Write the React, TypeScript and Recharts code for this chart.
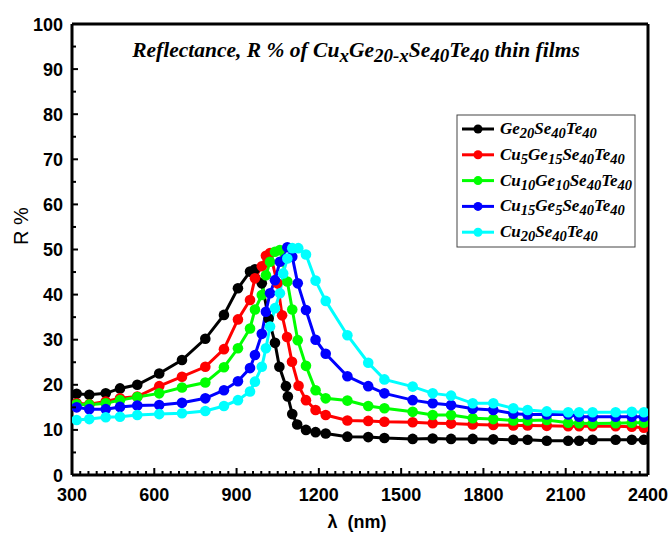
import React from 'react';
import { LineChart, Line, XAxis, YAxis, ReferenceLine } from 'recharts';

// Reflectance R (%) versus wavelength (nm), one [nm, R] pair per measured point
const ge20Se40Te40: [number, number][] = [
  [317, 18.0], [363, 17.8], [423, 18.1], [475, 19.2], [538, 20.0], [618, 22.5], [701, 25.5],
  [786, 30.2], [854, 35.5], [905, 41.4], [949, 45.1], [967, 45.6], [992, 42.5], [1017, 34.7],
  [1040, 29.3], [1056, 24.0], [1080, 19.7], [1087, 17.4], [1103, 13.5], [1121, 11.2],
  [1153, 10.0], [1188, 9.5], [1225, 9.2], [1304, 8.5], [1380, 8.4], [1439, 8.2], [1542, 8.0],
  [1615, 8.1], [1682, 8.0], [1761, 8.0], [1836, 7.9], [1909, 7.8], [1961, 7.8], [2031, 7.6],
  [2109, 7.6], [2149, 7.6], [2198, 7.8], [2282, 7.8], [2341, 7.8], [2385, 7.8],
];

const cu5Ge15Se40Te40: [number, number][] = [
  [317, 15.9], [363, 15.7], [423, 16.3], [475, 17.0], [538, 17.4], [618, 19.7], [701, 21.8],
  [786, 24.0], [854, 27.9], [905, 34.5], [949, 38.8], [967, 43.6], [992, 46.3], [1007, 48.6],
  [1022, 49.2], [1049, 42.5], [1066, 35.4], [1084, 30.6], [1102, 25.1], [1126, 19.8],
  [1153, 16.6], [1188, 14.4], [1225, 13.3], [1304, 12.1], [1380, 12.0], [1439, 11.8],
  [1542, 11.7], [1615, 11.5], [1682, 11.4], [1761, 11.2], [1836, 11.1], [1909, 11.0],
  [1961, 11.0], [2031, 10.9], [2109, 10.8], [2149, 10.8], [2198, 10.8], [2282, 10.8],
  [2341, 10.7], [2385, 10.5],
];

const cu10Ge10Se40Te40: [number, number][] = [
  [317, 15.7], [363, 15.6], [423, 15.9], [475, 16.6], [538, 17.3], [618, 18.1], [701, 19.4],
  [786, 20.5], [854, 23.9], [905, 28.1], [949, 32.5], [967, 36.7], [992, 39.9], [1007, 44.3],
  [1022, 47.3], [1040, 49.5], [1058, 49.9], [1085, 42.9], [1103, 36.7], [1123, 29.9],
  [1153, 24.2], [1188, 18.8], [1225, 17.0], [1304, 16.5], [1380, 15.3], [1439, 14.8],
  [1542, 14.0], [1615, 13.3], [1682, 13.3], [1761, 12.6], [1836, 12.4], [1909, 12.1],
  [1961, 12.1], [2031, 12.2], [2109, 11.6], [2149, 11.5], [2198, 11.4], [2282, 11.5],
  [2341, 11.6], [2385, 11.6],
];

const cu15Ge5Se40Te40: [number, number][] = [
  [317, 15.0], [363, 14.6], [423, 14.6], [475, 15.1], [538, 15.4], [618, 15.5], [701, 16.0],
  [786, 17.0], [854, 18.8], [905, 20.8], [949, 23.7], [967, 26.6], [992, 31.3], [1007, 36.2],
  [1022, 40.3], [1040, 43.2], [1058, 47.3], [1085, 50.5], [1103, 48.4], [1123, 42.5],
  [1153, 36.6], [1188, 30.0], [1225, 26.9], [1304, 21.9], [1380, 19.7], [1439, 18.1],
  [1542, 16.6], [1615, 15.9], [1682, 15.5], [1761, 14.7], [1836, 14.4], [1909, 13.6],
  [1961, 13.4], [2031, 13.4], [2109, 13.4], [2149, 12.9], [2198, 12.9], [2282, 12.9],
  [2341, 12.9], [2385, 12.9],
];

const cu20Se40Te40: [number, number][] = [
  [317, 12.2], [363, 12.4], [423, 12.8], [475, 12.9], [538, 13.3], [618, 13.5], [701, 13.7],
  [786, 14.2], [854, 15.3], [905, 16.6], [949, 18.5], [967, 20.7], [992, 24.0], [1007, 28.1],
  [1022, 32.9], [1040, 37.0], [1058, 40.3], [1070, 44.7], [1085, 48.0], [1103, 50.3],
  [1125, 50.3], [1153, 48.9], [1188, 43.1], [1225, 38.6], [1304, 31.0], [1380, 24.9],
  [1439, 21.2], [1542, 19.6], [1615, 18.1], [1682, 17.6], [1761, 15.9], [1836, 15.9],
  [1909, 14.8], [1961, 14.4], [2031, 14.1], [2109, 13.9], [2149, 13.9], [2198, 13.9],
  [2282, 13.9], [2341, 14.0], [2385, 13.9],
];

// Axis ticks
const xMajorTicks = [300, 600, 900, 1200, 1500, 1800, 2100, 2400];
const yMajorTicks = [0, 10, 20, 30, 40, 50, 60, 70, 80, 90, 100];
const xMinorStep = 30;
const yMinorStep = 5;

// Legend labels as [text, subscript] runs
type Run = [string, string];
const legendNames: Run[][] = [
  [['Ge', '20'], ['Se', '40'], ['Te', '40']],
  [['Cu', '5'], ['Ge', '15'], ['Se', '40'], ['Te', '40']],
  [['Cu', '10'], ['Ge', '10'], ['Se', '40'], ['Te', '40']],
  [['Cu', '15'], ['Ge', '5'], ['Se', '40'], ['Te', '40']],
  [['Cu', '20'], ['Se', '40'], ['Te', '40']],
];
const seriesColors = ['#000000', '#ff0000', '#00ff00', '#0000ff', '#00ffff'];
const seriesData = [ge20Se40Te40, cu5Ge15Se40Te40, cu10Ge10Se40Te40, cu15Ge5Se40Te40, cu20Se40Te40];

const titleRuns: Run[] = [
  ['Reflectance, R % of Cu', 'x'],
  ['Ge', '20-x'],
  ['Se', '40'],
  ['Te', '40'],
  [' thin films', ''],
];

const toPoints = (rows: [number, number][]) => rows.map(([nm, r]) => ({ nm, r }));

const xTicks: number[] = [];
for (let v = xMajorTicks[0]; v <= xMajorTicks[xMajorTicks.length - 1]; v += xMinorStep) xTicks.push(v);
const yTicks: number[] = [];
for (let v = yMajorTicks[0]; v <= yMajorTicks[yMajorTicks.length - 1]; v += yMinorStep) yTicks.push(v);

const labelFont = "'Liberation Sans', Arial, sans-serif";
const serifFont = "'Liberation Serif', 'Times New Roman', serif";

const XTick = (props: any) => {
  const { x, y, payload } = props;
  const major = xMajorTicks.includes(payload.value);
  return (
    <g>
      <line x1={x} x2={x} y1={y} y2={y - (major ? 7 : 4)} stroke="#000" strokeWidth={2} />
      {major && (
        <text x={x} y={y + 26} textAnchor="middle" fontFamily={labelFont} fontWeight="bold" fontSize={18} fill="#000">
          {payload.value}
        </text>
      )}
    </g>
  );
};

const YTick = (props: any) => {
  const { x, y, payload } = props;
  const major = yMajorTicks.includes(payload.value);
  return (
    <g>
      <line x1={x} x2={x + (major ? 6 : 4)} y1={y} y2={y} stroke="#000" strokeWidth={2} />
      {major && (
        <text x={x - 9} y={y + 6.5} textAnchor="end" fontFamily={labelFont} fontWeight="bold" fontSize={18} fill="#000">
          {payload.value}
        </text>
      )}
    </g>
  );
};

const SubText = ({ runs, size, subSize, shift }: { runs: Run[]; size: number; subSize: number; shift: number }) => (
  <>
    {runs.map(([main, sub], i) => (
      <React.Fragment key={i}>
        <tspan fontSize={size} dy={i === 0 ? 0 : -shift}>{main}</tspan>
        {sub ? <tspan fontSize={subSize} dy={shift}>{sub}</tspan> : <tspan dy={shift}></tspan>}
      </React.Fragment>
    ))}
  </>
);

export default function App() {
  const legendX = 457;
  const legendY = 115;
  const rowGap = 25.8;
  return (
    <div style={{ position: 'absolute', left: 0, top: 0, width: 672, height: 534, background: '#fff' }}>
      <LineChart width={672} height={534} margin={{ top: 24, right: 24, bottom: 0, left: 0 }}>
        <XAxis
          type="number"
          dataKey="nm"
          domain={[300, 2400]}
          ticks={xTicks}
          interval={0}
          allowDataOverflow
          height={59}
          tickSize={0}
          tickMargin={0}
          tickLine={false}
          tick={<XTick />}
          axisLine={{ stroke: '#000', strokeWidth: 3 }}
        />
        <YAxis
          type="number"
          dataKey="r"
          domain={[0, 100]}
          ticks={yTicks}
          interval={0}
          allowDataOverflow
          width={72}
          tickSize={0}
          tickMargin={0}
          tickLine={false}
          tick={<YTick />}
          axisLine={{ stroke: '#000', strokeWidth: 3 }}
        />
        {seriesData.map((rows, i) => (
          <Line
            key={i}
            data={toPoints(rows)}
            dataKey="r"
            type="linear"
            stroke={seriesColors[i]}
            strokeWidth={3}
            dot={{ r: 5.3, fill: seriesColors[i], stroke: seriesColors[i], strokeWidth: 0 }}
            isAnimationActive={false}
          />
        ))}
        <ReferenceLine y={100} stroke="#000" strokeWidth={3} />
        <ReferenceLine x={2400} stroke="#000" strokeWidth={3} />
      </LineChart>
      <svg width={672} height={534} style={{ position: 'absolute', left: 0, top: 0, pointerEvents: 'none' }}>
        <text x={356} y={57} textAnchor="middle" fontFamily={serifFont} fontWeight="bold" fontStyle="italic" fill="#000">
          <SubText runs={titleRuns} size={21.5} subSize={19} shift={5} />
        </text>
        <text x={357} y={528} textAnchor="middle" fontFamily={labelFont} fontWeight="bold" fontSize={18} fill="#000" xmlSpace="preserve">
          {'λ  (nm)'}
        </text>
        <text
          x={0}
          y={0}
          transform="translate(28, 226) rotate(-90)"
          textAnchor="middle"
          fontFamily={labelFont}
          fontSize={20}
          fill="#000"
        >
          R %
        </text>
        <rect x={legendX} y={legendY} width={178} height={132} fill="#fff" stroke="#444" strokeWidth={1} />
        {legendNames.map((runs, i) => {
          const cy = legendY + 14 + i * rowGap;
          return (
            <g key={i}>
              <line x1={legendX + 5} x2={legendX + 37} y1={cy} y2={cy} stroke={seriesColors[i]} strokeWidth={3} />
              <circle cx={legendX + 21} cy={cy} r={4.5} fill={seriesColors[i]} />
              <text x={legendX + 43} y={cy + 5} fontFamily={serifFont} fontWeight="bold" fontStyle="italic" fill="#000">
                <SubText runs={runs} size={17} subSize={14.5} shift={4} />
              </text>
            </g>
          );
        })}
      </svg>
    </div>
  );
}
